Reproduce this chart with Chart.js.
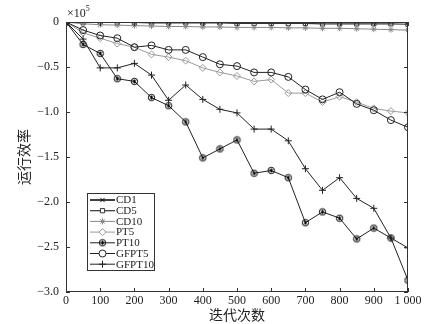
<!DOCTYPE html>
<html>
<head>
<meta charset="utf-8">
<script src="https://cdn.jsdelivr.net/npm/chart.js@4"></script>
<style>
  html, body { margin: 0; padding: 0; background: #fff; }
  #wrap { width: 446px; height: 324px; position: relative; }
</style>
</head>
<body>
<div id="wrap"><canvas id="chart"></canvas></div>
<script>
// --- data (values in units of 1e5) ---
const iterations = [0, 50, 100, 150, 200, 250, 300, 350, 400, 450, 500, 550, 600, 650, 700, 750, 800, 850, 900, 950, 1000];
const seriesNames = ['CD1', 'CD5', 'CD10', 'PT5', 'PT10', 'GFPT5', 'GFPT10'];
const cd1 = [0, 0, 0, 0, 0, 0, 0, 0, 0, 0, 0, 0, 0, 0, 0, 0, 0, 0, 0, 0, 0];
const cd5 = [0, -0.005, -0.005, -0.005, -0.005, -0.01, -0.01, -0.01, -0.01, -0.01, -0.015, -0.015, -0.015, -0.015, -0.015, -0.02, -0.02, -0.02, -0.02, -0.02, -0.025];
const cd10 = [0, -0.02, -0.03, -0.035, -0.04, -0.045, -0.05, -0.05, -0.055, -0.055, -0.06, -0.06, -0.06, -0.065, -0.065, -0.07, -0.07, -0.075, -0.08, -0.085, -0.09];
const pt5 = [0, -0.12, -0.18, -0.24, -0.28, -0.36, -0.39, -0.43, -0.51, -0.56, -0.60, -0.66, -0.64, -0.79, -0.79, -0.89, -0.83, -0.89, -0.96, -0.99, -1.01];
const pt10 = [0, -0.25, -0.35, -0.63, -0.66, -0.84, -0.93, -1.11, -1.51, -1.41, -1.31, -1.68, -1.65, -1.73, -2.23, -2.11, -2.18, -2.41, -2.29, -2.40, -2.87];
const gfpt5 = [0, -0.09, -0.15, -0.18, -0.28, -0.26, -0.31, -0.31, -0.39, -0.47, -0.49, -0.56, -0.56, -0.61, -0.75, -0.86, -0.78, -0.91, -0.98, -1.09, -1.17];
const gfpt10 = [0, -0.19, -0.51, -0.51, -0.46, -0.59, -0.87, -0.70, -0.86, -0.97, -1.01, -1.19, -1.19, -1.32, -1.63, -1.87, -1.73, -1.96, -2.07, -2.40, -2.51];
const yTicks = [-3.0, -2.5, -2.0, -1.5, -1.0, -0.5, 0];
const xTicks = [0, 100, 200, 300, 400, 500, 600, 700, 800, 900, 1000];

const FONT = '"Liberation Serif", "DejaVu Serif", serif';
const CJK = '"Noto Sans CJK SC", sans-serif';

// circle with a star inside (PT10 marker)
const makePt10Marker = () => {
    const c = document.createElement('canvas');
    c.width = 9; c.height = 9;
    const g = c.getContext('2d');
    g.strokeStyle = '#000';
    g.lineWidth = 1;
    g.beginPath();
    g.arc(4.5, 4.5, 3.2, 0, Math.PI * 2);
    g.stroke();
    g.beginPath();
    g.moveTo(4.5, 2.5); g.lineTo(4.5, 6.5);
    g.moveTo(2.8, 3.5); g.lineTo(6.2, 5.5);
    g.moveTo(2.8, 5.5); g.lineTo(6.2, 3.5);
    g.stroke();
    return c;
};
const pt10Marker = makePt10Marker();

const toPoints = (arr) => iterations.map((x, i) => ({ x: x, y: arr[i] }));

const styles = [
    { data: cd1, color: '#111', style: 'crossRot', r: 3, w: 1.6 },
    { data: cd5, color: '#333', style: 'rect', r: 3, w: 1.2 },
    { data: cd10, color: '#888', style: 'star', r: 3, w: 1 },
    { data: pt5, color: '#9a9a9a', style: 'rectRot', r: 3.5, w: 1 },
    { data: pt10, color: '#222', style: pt10Marker, r: 4, w: 1 },
    { data: gfpt5, color: '#222', style: 'circle', r: 3.5, w: 1 },
    { data: gfpt10, color: '#222', style: 'cross', r: 3.5, w: 1 }
];

const datasets = seriesNames.map((name, i) => ({
    label: name,
    data: toPoints(styles[i].data),
    borderColor: styles[i].color,
    backgroundColor: 'rgba(0,0,0,0)',
    borderWidth: styles[i].w,
    pointStyle: styles[i].style,
    pointRadius: styles[i].r,
    pointBorderColor: styles[i].color,
    pointBorderWidth: 1,
    pointBackgroundColor: 'rgba(0,0,0,0)',
    tension: 0,
    order: seriesNames.length - i
}));

// frame with inward ticks on all four sides, plus the x10^5 note and legend
const framePlugin = {
    id: 'frame',
    afterDatasetsDraw(chart) {
        const { ctx, chartArea: a, scales } = chart;
        ctx.save();
        ctx.strokeStyle = '#333';
        ctx.lineWidth = 1;
        ctx.strokeRect(a.left + 0.5, a.top + 0.5, a.right - a.left - 1, a.bottom - a.top - 1);
        ctx.beginPath();
        const tl = 4;
        xTicks.forEach(v => {
            const px = Math.round(scales.x.getPixelForValue(v)) + 0.5;
            ctx.moveTo(px, a.bottom); ctx.lineTo(px, a.bottom - tl);
            ctx.moveTo(px, a.top); ctx.lineTo(px, a.top + tl);
        });
        yTicks.forEach(v => {
            const py = Math.round(scales.y.getPixelForValue(v)) + 0.5;
            ctx.moveTo(a.left, py); ctx.lineTo(a.left + tl, py);
            ctx.moveTo(a.right, py); ctx.lineTo(a.right - tl, py);
        });
        ctx.stroke();

        // exponent note
        ctx.fillStyle = '#222';
        ctx.textBaseline = 'alphabetic';
        ctx.font = '12px ' + FONT;
        const base = '\u00d710';
        ctx.fillText(base, a.left + 1, a.top - 5);
        const bw = ctx.measureText(base).width;
        ctx.font = '8px ' + FONT;
        ctx.fillText('5', a.left + 1 + bw, a.top - 11);

        // legend
        const lx = 87, ly = 193, lw = 67, lh = 77;
        ctx.fillStyle = '#fff';
        ctx.fillRect(lx, ly, lw, lh);
        ctx.strokeStyle = '#333';
        ctx.strokeRect(lx + 0.5, ly + 0.5, lw, lh);
        ctx.font = '11px ' + FONT;
        ctx.textBaseline = 'middle';
        chart.data.datasets.forEach((ds, i) => {
            const cy = ly + 7 + i * 10.7;
            ctx.strokeStyle = ds.borderColor;
            ctx.lineWidth = ds.borderWidth;
            ctx.beginPath();
            ctx.moveTo(lx + 3, cy); ctx.lineTo(lx + 28, cy);
            ctx.stroke();
            ctx.lineWidth = 1;
            ctx.fillStyle = '#fff';
            Chart.helpers.drawPoint(ctx, {
                pointStyle: ds.pointStyle, radius: ds.pointRadius, borderWidth: 1, rotation: 0
            }, lx + 15.5, cy);
            ctx.fillStyle = '#222';
            ctx.fillText(ds.label, lx + 29, cy + 0.5);
        });
        ctx.restore();
    }
};

const fmtY = (v) => {
    if (Math.abs(v) < 1e-9) return '0';
    return (v < 0 ? '\u2212' : '') + Math.abs(v).toFixed(1);
};

new Chart(document.getElementById('chart'), {
    type: 'line',
    data: { datasets: datasets },
    options: {
        responsive: true,
        maintainAspectRatio: false,
        animation: false,
        layout: { padding: { left: 0, right: 38, top: 22, bottom: 0 } },
        plugins: {
            legend: { display: false },
            tooltip: { enabled: false }
        },
        scales: {
            x: {
                type: 'linear',
                min: 0,
                max: 1000,
                afterBuildTicks: (s) => { s.ticks = xTicks.map(v => ({ value: v })); },
                afterFit: (s) => { s.height = 32; },
                grid: { display: false, drawTicks: false },
                border: { display: false },
                ticks: {
                    padding: 2,
                    color: '#222',
                    maxRotation: 0,
                    font: { family: FONT, size: 12 },
                    callback: (v) => v === 1000 ? '1 000' : String(v)
                },
                title: {
                    display: true,
                    text: '迭代次数',
                    color: '#222',
                    padding: { top: 0, bottom: 1 },
                    font: { family: CJK, size: 14 }
                }
            },
            y: {
                min: -3,
                max: 0,
                afterBuildTicks: (s) => { s.ticks = yTicks.map(v => ({ value: v })); },
                afterFit: (s) => { s.width = 66; },
                grid: { display: false, drawTicks: false },
                border: { display: false },
                ticks: {
                    padding: 7,
                    color: '#222',
                    font: { family: FONT, size: 12 },
                    callback: (v) => fmtY(v)
                },
                title: {
                    display: true,
                    text: '运行效率',
                    color: '#222',
                    padding: { top: 15, bottom: 0 },
                    font: { family: CJK, size: 14 }
                }
            }
        }
    },
    plugins: [framePlugin]
});
</script>
</body>
</html>
